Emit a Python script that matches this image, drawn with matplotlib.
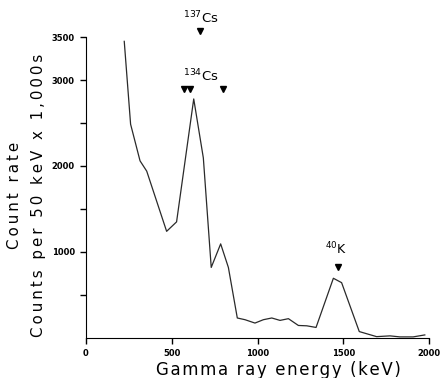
import matplotlib
matplotlib.use('Agg')
import matplotlib.pyplot as plt

# spectrum
energy = [223, 260, 315, 354, 470, 528, 628, 684, 730, 785, 830, 882, 927, 985,
          1034, 1083, 1131, 1180, 1238, 1287, 1341, 1442, 1490, 1593, 1694,
          1772, 1830, 1907, 1975]
counts = [3450, 2486, 2060, 1940, 1240, 1350, 2780, 2094, 820, 1094, 820, 232,
          212, 173, 212, 232, 204, 224, 145, 141, 122, 694, 643, 74, 15,
          24, 12, 12, 35]

# peak markers
cs137_e = [664]
cs137_y = 3565
cs134_e = [572, 604, 797]
cs134_y = 2895
k40_e = [1470]
k40_y = 820

yticks = [500, 1000, 1500, 2000, 2500, 3000, 3500]
ytick_labels = ['', '1000', '', '2000', '', '3000', '3500']
xticks = [0, 500, 1000, 1500, 2000]


def spaced(s, gap):
    # wide letter spacing like the typeset original
    return gap.join(s)


fig = plt.figure(figsize=(4.41, 3.78), dpi=100)
ax = fig.add_axes([0.195, 0.106, 0.778, 0.796])

ax.plot(energy, counts, color='#2a2a2a', lw=0.9)

ax.plot(cs137_e, [cs137_y] * len(cs137_e), 'v', color='black', ms=4, clip_on=False)
ax.plot(cs134_e, [cs134_y] * len(cs134_e), 'v', color='black', ms=4, clip_on=False)
ax.plot(k40_e, [k40_y] * len(k40_e), 'v', color='black', ms=4, clip_on=False)

ax.text(670, 3625, r'$^{137}$Cs', ha='center', va='bottom', fontsize=9.5)
ax.text(670, 2945, r'$^{134}$Cs', ha='center', va='bottom', fontsize=9.5)
ax.text(1457, 935, r'$^{40}$K', ha='center', va='bottom', fontsize=9)

ax.set_xlim(0, 2000)
ax.set_ylim(0, 3500)
ax.set_xticks(xticks)
ax.set_xticklabels([str(v) for v in xticks], fontsize=6, fontweight='bold')
ax.set_yticks(yticks)
ax.set_yticklabels(ytick_labels, fontsize=6, fontweight='bold')
ax.tick_params(direction='out', length=4, width=1, pad=4)

ax.spines['top'].set_visible(False)
ax.spines['right'].set_visible(False)

ax.set_xlabel(spaced('Gamma ray energy (keV)', '\u200a'), fontsize=12)
ax.xaxis.set_label_coords(0.56, -0.078)
ax.set_ylabel(spaced('Count rate', '\u2009') + '\n' +
              spaced('Counts per 50 keV x 1,000s', '\u2009'),
              fontsize=10.8, linespacing=1.7)
ax.yaxis.set_label_coords(-0.117, 0.475)

plt.savefig('out.png', dpi=100)
